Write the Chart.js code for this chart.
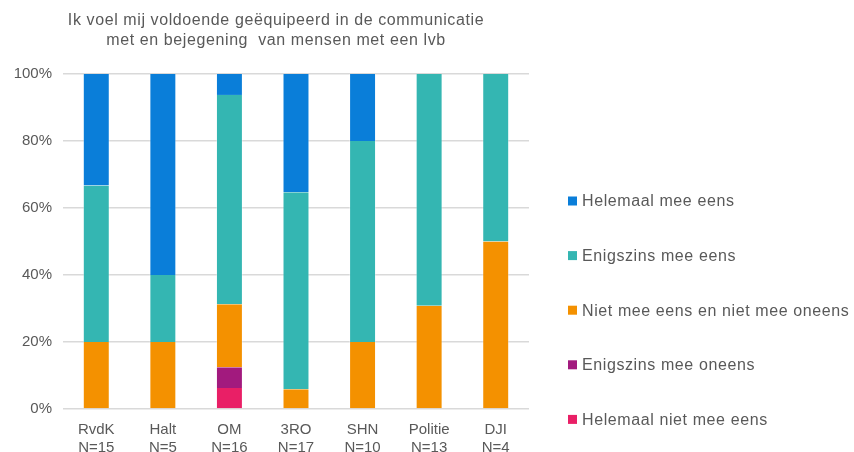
<!DOCTYPE html>
<html>
<head>
<meta charset="utf-8">
<script src="https://cdn.jsdelivr.net/npm/chart.js@4/dist/chart.umd.min.js"></script>
<style>
  html, body { margin: 0; padding: 0; background: #fff; }
  #wrap { width: 854px; height: 452px; }
</style>
</head>
<body>
<div id="wrap"><canvas id="chart" width="854" height="452"></canvas></div>
<script>
// Data (percent of respondents)
const categories = [['RvdK', 'N=15'], ['Halt', 'N=5'], ['OM', 'N=16'], ['3RO', 'N=17'], ['SHN', 'N=10'], ['Politie', 'N=13'], ['DJI', 'N=4']];
const titleLines = ['Ik voel mij voldoende geëquipeerd in de communicatie', 'met en bejegening  van mensen met een lvb'];

const helemaalNietEens = [0, 0, 6.25, 0, 0, 0, 0];
const enigszinsOneens = [0, 0, 6.25, 0, 0, 0, 0];
const nietEensNietOneens = [20, 20, 18.75, 5.9, 20, 30.8, 50];
const enigszinsEens = [46.7, 20, 62.5, 58.8, 60, 69.2, 50];
const helemaalEens = [33.3, 60, 6.25, 35.3, 20, 0, 0];

const yTicks = [0, 20, 40, 60, 80, 100];

const textColor = '#595959';
const font = "'Liberation Sans', Arial, sans-serif";

// bottom of stack first
const series = [
  { label: 'Helemaal niet mee eens', data: helemaalNietEens, color: '#E91F66' },
  { label: 'Enigszins mee oneens', data: enigszinsOneens, color: '#A21A7E' },
  { label: 'Niet mee eens en niet mee oneens', data: nietEensNietOneens, color: '#F49100' },
  { label: 'Enigszins mee eens', data: enigszinsEens, color: '#34B6B2' },
  { label: 'Helemaal mee eens', data: helemaalEens, color: '#0A7ED9' }
];

// Title and legend drawn by hand to match the original placement
const extrasPlugin = {
  id: 'extras',
  afterDraw(chart) {
    const ctx = chart.ctx;
    ctx.save();
    ctx.fillStyle = textColor;
    ctx.font = '16px ' + font;
    ctx.letterSpacing = '0.6px';
    ctx.textAlign = 'center';
    ctx.textBaseline = 'middle';
    ctx.fillText(titleLines[0], 276, 21);
    ctx.fillText(titleLines[1], 276, 41);

    ctx.textAlign = 'left';
    const items = chart.data.datasets.slice().reverse();
    items.forEach((ds, i) => {
      const y = 201 + i * 54.6;
      ctx.fillStyle = ds.backgroundColor;
      ctx.fillRect(568, y - 4.5, 9, 9);
      ctx.fillStyle = textColor;
      ctx.fillText(ds.label, 582, y + 1);
    });
    ctx.restore();
  }
};

new Chart(document.getElementById('chart'), {
  type: 'bar',
  data: {
    labels: categories,
    datasets: series.map(s => ({
      label: s.label,
      data: s.data,
      backgroundColor: s.color,
      borderColor: 'rgba(255,255,255,0.35)',
      borderWidth: { left: 1, right: 1, top: 0, bottom: 0 },
      borderSkipped: false,
      barPercentage: 0.405,
      categoryPercentage: 1
    }))
  },
  options: {
    responsive: false,
    animation: false,
    layout: { padding: { top: 74, right: 325, left: 0, bottom: 0 } },
    plugins: {
      legend: { display: false },
      title: { display: false },
      tooltip: { enabled: false }
    },
    scales: {
      x: {
        stacked: true,
        grid: { display: false },
        border: { display: false },
        ticks: {
          color: textColor,
          font: { family: font, size: 15 },
          padding: 4,
          maxRotation: 0,
          autoSkip: false
        },
        afterFit(scale) { scale.height = 43; }
      },
      y: {
        stacked: true,
        min: 0,
        max: 100,
        afterBuildTicks(scale) { scale.ticks = yTicks.map(v => ({ value: v })); },
        grid: { color: '#d9d9d9', lineWidth: 1.5, drawTicks: false },
        border: { display: false },
        ticks: {
          color: textColor,
          font: { family: font, size: 15 },
          padding: 11,
          callback: v => v + '%'
        },
        afterFit(scale) { scale.width = 63; }
      }
    }
  },
  plugins: [extrasPlugin]
});
</script>
</body>
</html>
